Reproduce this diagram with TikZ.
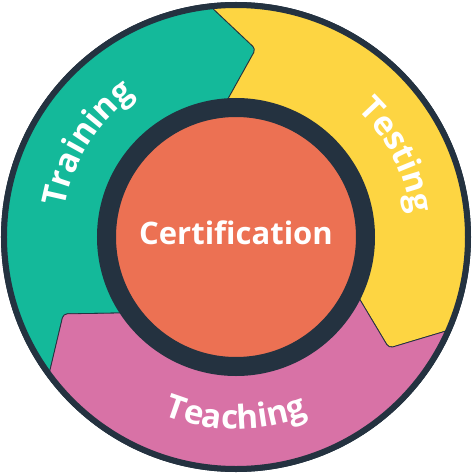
\documentclass[tikz,border=0pt]{standalone}
\usepackage{fontspec}
\setmainfont{Open Sans}
\usetikzlibrary{decorations.text}
\definecolor{ringdark}{HTML}{243240}
\definecolor{traingreen}{HTML}{14B99A}
\definecolor{testyellow}{HTML}{FDD542}
\definecolor{teachpink}{HTML}{D872A6}
\definecolor{certorange}{HTML}{EC7153}
\newcommand{\labelfont}{\fontsize{33}{38}\selectfont\bfseries\color{white}}

\begin{document}
\begin{tikzpicture}[
  x=1pt, y=1pt,
  seg/.style={draw=ringdark, line width=0.8pt, rounded corners=4pt},
  ring/.style={draw=ringdark},
  arclabel/.style={decorate, decoration={text along path,
              text align=center, text={|\labelfont|#1}}}
]
\useasboundingbox (-236,-237) rectangle (238,237);
\fill[ringdark] (0,0) circle[radius=235];
\draw[seg, fill=traingreen] (216.5:233) arc[start angle=216.5, end angle=96.5, radius=233]
  -- (84:189) -- (96:129) arc[start angle=96, end angle=216, radius=129]
  -- (204:189) -- cycle;
\draw[seg, fill=testyellow] (96.5:233) arc[start angle=96.5, end angle=-23.5, radius=233]
  -- (-36:189) -- (-24:129) arc[start angle=-24, end angle=96, radius=129]
  -- (84:189) -- cycle;
\draw[seg, fill=teachpink] (-23.5:233) arc[start angle=-23.5, end angle=-143.5, radius=233]
  -- (-156:189) -- (-144:129) arc[start angle=-144, end angle=-24, radius=129]
  -- (-36:189) -- cycle;
\fill[certorange] (0,0) circle[radius=121];
\draw[ring, line width=19pt] (0,0) circle[radius=129.5];
\draw[ring, line width=6pt] (0,0) circle[radius=232];
\node[text=white, font=\fontsize{31}{37}\selectfont\bfseries] (cert) at (0,4) {Certification};
\path[arclabel=Training] (208:174) arc[start angle=208, end angle=88, radius=174];
\path[arclabel=Testing] (87:176) arc[start angle=87, end angle=-33, radius=176];
\path[arclabel=Teaching] (210:192) arc[start angle=210, end angle=330, radius=192];
\end{tikzpicture}
\end{document}
